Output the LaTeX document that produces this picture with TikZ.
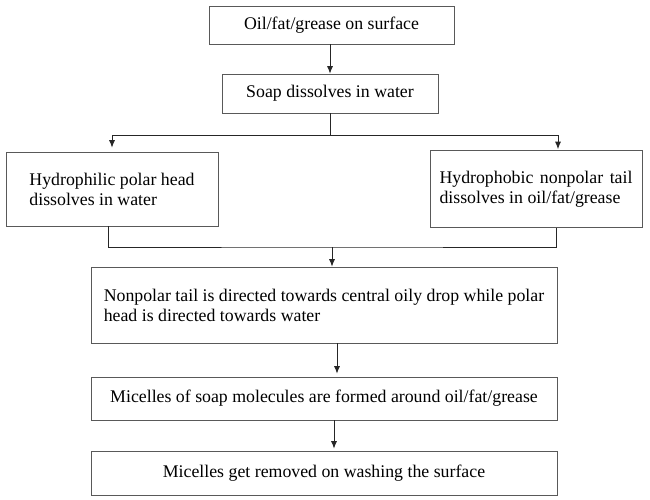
\documentclass[tikz,border=0pt]{standalone}
\usepackage{fontspec}
\setmainfont{Liberation Serif}
\usetikzlibrary{arrows.meta}
\begin{document}
\begin{tikzpicture}[x=1pt,y=-1pt,
  box/.style={draw=black!65,line width=0.6pt,inner sep=0pt,align=left,
    font=\fontsize{17.8}{20}\selectfont},
  conn/.style={draw=black!85,line width=0.9pt},
  arr/.style={conn,-{Latex[length=7.5pt,width=6pt]}}]
\useasboundingbox (0,0) rectangle (650,500);
\node[box,minimum width=245,minimum height=38] (b1) at (331.5,25) {Oil/fat/grease on surface};
\node[box,minimum width=216,minimum height=39] (b2) at (330,93.5) {Soap dissolves in water};
\node[box,minimum width=212,minimum height=74] (b3) at (112,189) {Hydrophilic polar head\\dissolves in water};
\node[box,minimum width=212,minimum height=77] (b4) at (536,189) {\makebox[193pt][s]{Hydrophobic nonpolar tail}\\dissolves in oil/fat/grease};
\node[box,minimum width=466,minimum height=76] (b5) at (324,305) {Nonpolar tail is directed towards central oily drop while polar\\head is directed towards water};
\node[box,minimum width=466,minimum height=43] (b6) at (324,398.5) {Micelles of soap molecules are formed around oil/fat/grease};
\node[box,minimum width=466,minimum height=44] (b7) at (324,473) {Micelles get removed on washing the surface};
\coordinate (split) at (330,135);
\coordinate (merge) at (332,247);
\draw[arr] (b2.north |- b1.south) -- (b2.north);
\draw[conn] (b2.south) -- (split);
\draw[arr,shorten >=4pt] (split) -| (b3.north);
\draw[arr,shorten >=1pt] (split) -| ([xshift=22pt]b4.north);
\draw[conn] ([xshift=-4pt]b3.south) |- (merge) -| ([xshift=20pt]b4.south);
\draw[arr] (merge) -- (merge |- b5.north);
\draw[arr,shorten >=3pt] ([xshift=13pt]b5.south) -- ([xshift=13pt]b6.north);
\draw[arr,shorten >=2pt] ([xshift=10pt]b6.south) -- ([xshift=10pt]b7.north);
\end{tikzpicture}
\end{document}
